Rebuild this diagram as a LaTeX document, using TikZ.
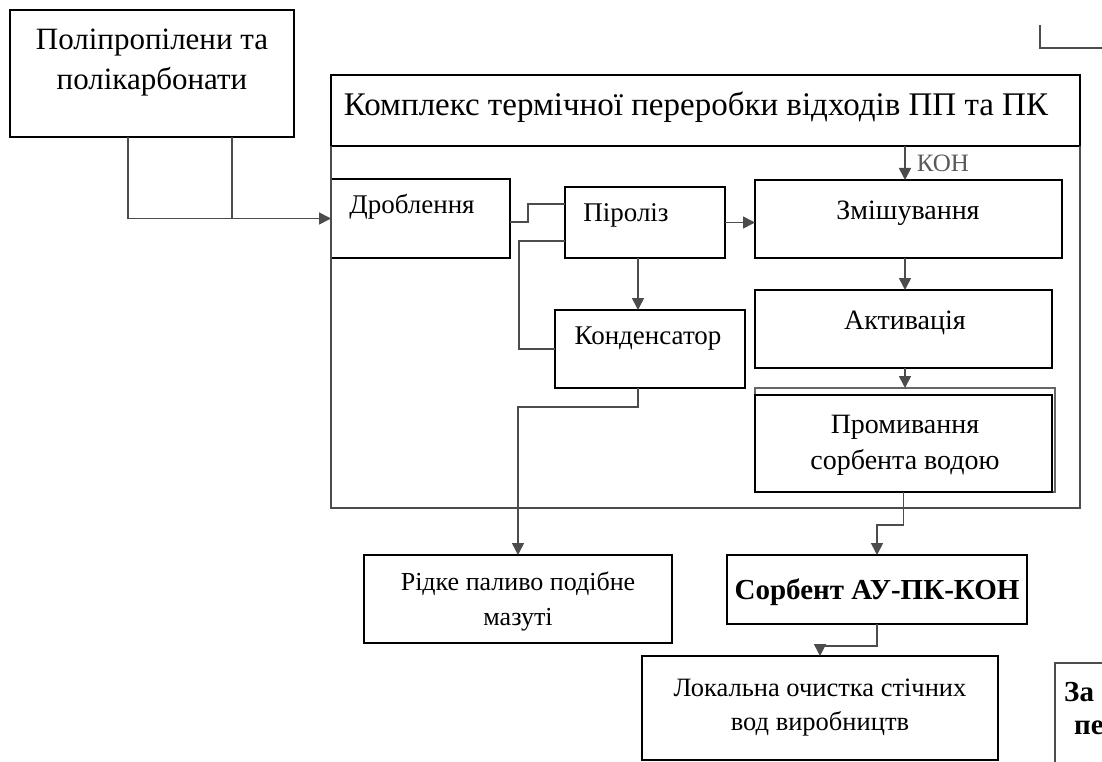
\documentclass[tikz,border=0pt]{standalone}
\usepackage{fontspec}
\setmainfont{Liberation Serif}
\usetikzlibrary{arrows.meta,calc}

\begin{document}
\begin{tikzpicture}[x=1pt,y=-1pt]
\tikzset{
  box/.style={draw=black, line width=1.5pt, rectangle, inner sep=0pt, outer sep=0pt},
  link/.style={draw=black!70, line width=1.6pt},
  arr/.style={link, -{Triangle[length=12pt,width=12pt]}},
  txt/.style={align=center, inner sep=0pt, font=\fontsize{27}{35}\selectfont},
}
\useasboundingbox (0,0) rectangle (1102,762);

    %boxes
    \node[box, minimum width=284, minimum height=127] (poly) at (152,73.5) {};
    \node[box, minimum width=749, minimum height=71] (title) at (705.5,110.5) {};
    \node[box, minimum width=179, minimum height=79] (drob) at (420.5,218.5) {};
    \node[box, minimum width=160, minimum height=71] (pyro) at (645,222.5) {};
    \node[box, minimum width=307, minimum height=78] (mix) at (908.5,219) {};
    \node[box, minimum width=190, minimum height=78] (cond) at (650,349) {};
    \node[box, minimum width=297, minimum height=78] (act) at (903.5,329) {};
    \node[box, draw=black!60, minimum width=300, minimum height=104] (promback) at (905,440) {};
    \node[box, fill=white, minimum width=297, minimum height=97] (prom) at (903.5,443.5) {};
    \node[box, minimum width=308, minimum height=88] (fuel) at (518,599) {};
    \node[box, minimum width=300, minimum height=69] (sorb) at (877,589.5) {};
    \node[box, minimum width=356, minimum height=104] (local) at (820,708) {};
    \node[box, draw=black!70, anchor=north west, minimum width=120, minimum height=130] (zabox) at (1055,663) {};

    %texts
    \node[txt, font=\fontsize{31}{40}\selectfont] (polytxt) at (152,63) {Поліпропілени та\\полікарбонати};
    \node[txt, font=\fontsize{33}{40}\selectfont] (titletxt) at (696,107) {Комплекс термічної переробки відходів ПП та ПК};
    \node[txt] (drobtxt) at (412,207) {Дроблення};
    \node[txt] (pyrotxt) at (626,215) {Піроліз};
    \node[txt, font=\fontsize{28}{36}\selectfont] (mixtxt) at (908,213) {Змішування};
    \node[txt] (condtxt) at (648,339) {Конденсатор};
    \node[txt, font=\fontsize{28}{36}\selectfont] (acttxt) at (905,323) {Активація};
    \node[txt, font=\fontsize{28}{36}\selectfont] (promtxt) at (905,445) {Промивання\\сорбента водою};
    \node[txt, font=\fontsize{26}{35}\selectfont] (fueltxt) at (518,601) {Рідке паливо подібне\\мазуті};
    \node[txt, font=\bfseries\fontsize{29}{35}\selectfont] (sorbtxt) at (877,592) {Сорбент АУ-ПК-КОН};
    \node[txt, font=\fontsize{26.5}{34}\selectfont] (localtxt) at (820,708) {Локальна очистка стічних\\вод виробництв};
    \node[txt, anchor=west, font=\bfseries\fontsize{29}{35}\selectfont] (zatxt1) at (1064,692) {За};
    \node[txt, anchor=west, font=\bfseries\fontsize{29}{35}\selectfont] (zatxt2) at (1074,728) {пе};

    %frame of the complex
    \draw[link] (title.south west) |- ($(title.south east)+(0,362)$) -- (title.south east);

    %inputs
    \draw[arr] ($(poly.south west)+(118,0)$) |- (drob.west);
    \draw[link] ($(poly.south west)+(222,0)$) |- (drob.west);

    %KOH
    \coordinate (koh) at (905,146);
    \draw[arr] (koh) -- (koh |- mix.north) node[midway, right=11pt, inner sep=0pt, text=black!65, font=\fontsize{25}{28}\selectfont] (kohtxt) {КОН};

    %process
    \draw[link] ($(drob.east)+(0,3.5)$) -- ++(18,0) |- ($(pyro.north west)+(0,17)$);
    \draw[arr] (pyro.east) -- (pyro.east -| mix.west);
    \draw[arr] ($(pyro.south west)+(73,0)$) -- ++(0,52);
    \draw[link] ($(pyro.south west)+(0,-17)$) -| ($(cond.west)+(-36,0)$) -- (cond.west);
    \draw[arr] ($(cond.south west)+(83,0)$) -- ++(0,19) -| (fuel.north);
    \draw[arr] (koh |- mix.south) -- (koh |- act.north);
    \draw[arr] (koh |- act.south) -- (koh |- promback.north);
    \draw[arr] (prom.south) -- ++(0,33) -| (sorb.north);
    \draw[arr] (sorb.south) -- ++(0,22) -| (local.north);

    %corner at the top
    \draw[link] (1040,25) |- (1110,48);

\end{tikzpicture}
\end{document}
